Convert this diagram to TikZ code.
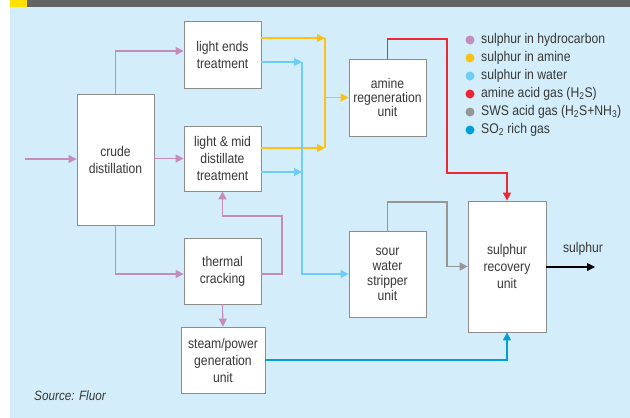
\documentclass[tikz,border=0pt]{standalone}
\usepackage{fontspec}
\setmainfont{Liberation Sans}[FakeStretch=0.87]
\usetikzlibrary{arrows.meta}
\definecolor{bgblue}{RGB}{211,238,250}
\definecolor{bargray}{RGB}{99,100,102}
\definecolor{baryellow}{RGB}{255,224,0}
\definecolor{boxgray}{RGB}{140,140,140}
\definecolor{txtgray}{RGB}{55,55,55}
\definecolor{hcpurple}{RGB}{196,140,186}
\definecolor{amyellow}{RGB}{252,193,20}
\definecolor{wtblue}{RGB}{110,205,245}
\definecolor{acred}{RGB}{237,40,50}
\definecolor{swsgray}{RGB}{150,150,150}
\definecolor{so2cyan}{RGB}{0,160,214}

\begin{document}
\begin{tikzpicture}[x=1pt,y=-1pt,
    unit/.style={draw=boxgray, fill=white, line width=0.8pt, align=center,
      text=txtgray, inner sep=0pt, minimum width=77pt,
      font=\fontsize{14}{17}\selectfont},
    flow/.style={line width=1.1pt, -{Triangle[length=8pt,width=8pt]}},
    pipe/.style={line width=1.1pt},
    dot/.style={circle, inner sep=0pt, minimum size=9pt}]
  \useasboundingbox (0,0) rectangle (630,418);
  \fill[bgblue] (10,7) rectangle (630,418);
  \fill[bargray] (27,0) rectangle (630,7);
  \fill[baryellow] (10,0) rectangle (27,7);

  \node[unit, minimum height=131pt] (crude) at (115.5,159.5) {crude\\distillation};
  \node[unit, minimum height=67pt] (ends) at (222.5,54.5) {light ends\\treatment};
  \node[unit, minimum height=65pt] (mid) at (222.5,158.5) {light \& mid\\distillate\\treatment};
  \node[unit, minimum height=66pt] (thermal) at (222.5,271) {thermal\\cracking};
  \node[unit, minimum width=84pt, minimum height=66pt] (steam) at (223,360)
    {steam/power\\generation\\unit};
  \node[unit, minimum height=77pt, font=\fontsize{14}{14}\selectfont] (amine)
    at (387.5,97.5) {amine\\regeneration\\unit};
  \node[unit, minimum height=86pt, font=\fontsize{14}{15}\selectfont] (sws)
    at (387.5,274) {sour\\water\\stripper\\unit};
  \node[unit, minimum width=78pt, minimum height=131pt] (sru) at (507,266.5)
    {sulphur\\recovery\\unit};

  \coordinate (feed) at (25,159);
  \coordinate (tcup) at (282,216);
  \coordinate (ytop) at (325,38);
  \coordinate (ybot) at (325,148);
  \coordinate (wtop) at (302,62);
  \coordinate (wmid) at (302,172);
  \coordinate (r1) at (447,39);
  \coordinate (r2) at (447,173);
  \coordinate (g1) at (447,202);
  \coordinate (prod) at (595,267);

  \draw[flow, hcpurple] (feed) -- (crude.west |- feed);
  \draw[flow, hcpurple] (crude.north) |- ([yshift=3.5pt]ends.west);
  \draw[flow, hcpurple] (crude.east |- mid) -- (mid.west);
  \draw[flow, hcpurple] (crude.south) |- ([yshift=-3pt]thermal.west);
  \draw[flow, hcpurple] ([yshift=-3pt]thermal.east) -| (tcup) -| (mid.south);
  \draw[flow, hcpurple] (thermal.south) -- (steam.north);

  \draw[pipe, amyellow] (ytop) -- (ybot);
  \draw[flow, amyellow] (ends.east |- ytop) -- (ytop);
  \draw[flow, amyellow] (mid.east |- ybot) -- (ybot);
  \draw[flow, amyellow] (ytop |- amine.west) -- (amine.west);

  \draw[flow, wtblue] (ends.east |- wtop) -- (wtop);
  \draw[flow, wtblue] (mid.east |- wmid) -- (wmid);
  \draw[flow, wtblue] (wtop) |- (sws.west);

  \draw[flow, acred] (amine.north) |- (r1) -- (r2) -| (sru.north);
  \draw[flow, swsgray] (sws.north) |- (g1) |- (sru.west);
  \draw[flow, so2cyan] (steam.east) -| (sru.south);
  \draw[flow, black] (sru.east |- prod) -- (prod);
  \node[text=txtgray, font=\fontsize{14}{17}\selectfont] (sulphur) at (583,249) {sulphur};

  \foreach \col/\txt [count=\i] in {hcpurple/{sulphur in hydrocarbon},
      amyellow/{sulphur in amine}, wtblue/{sulphur in water},
      acred/{amine acid gas (H\textsubscript{2}S)},
      swsgray/{SWS acid gas (H\textsubscript{2}S+NH\textsubscript{3})},
      so2cyan/{SO\textsubscript{2} rich gas}}{
    \node[dot, fill=\col] (c\i) at (470,{40+18*(\i-1)}) {};
    \node[anchor=west, inner sep=0pt, text=txtgray,
      font=\fontsize{14}{17}\selectfont] (k\i) at (481,{40+18*(\i-1)}) {\txt};
  }

  \node[anchor=west, inner sep=0pt, text=txtgray,
    font=\fontsize{13.5}{16}\selectfont\itshape] (src) at (34,396) {Source: Fluor};
\end{tikzpicture}
\end{document}
